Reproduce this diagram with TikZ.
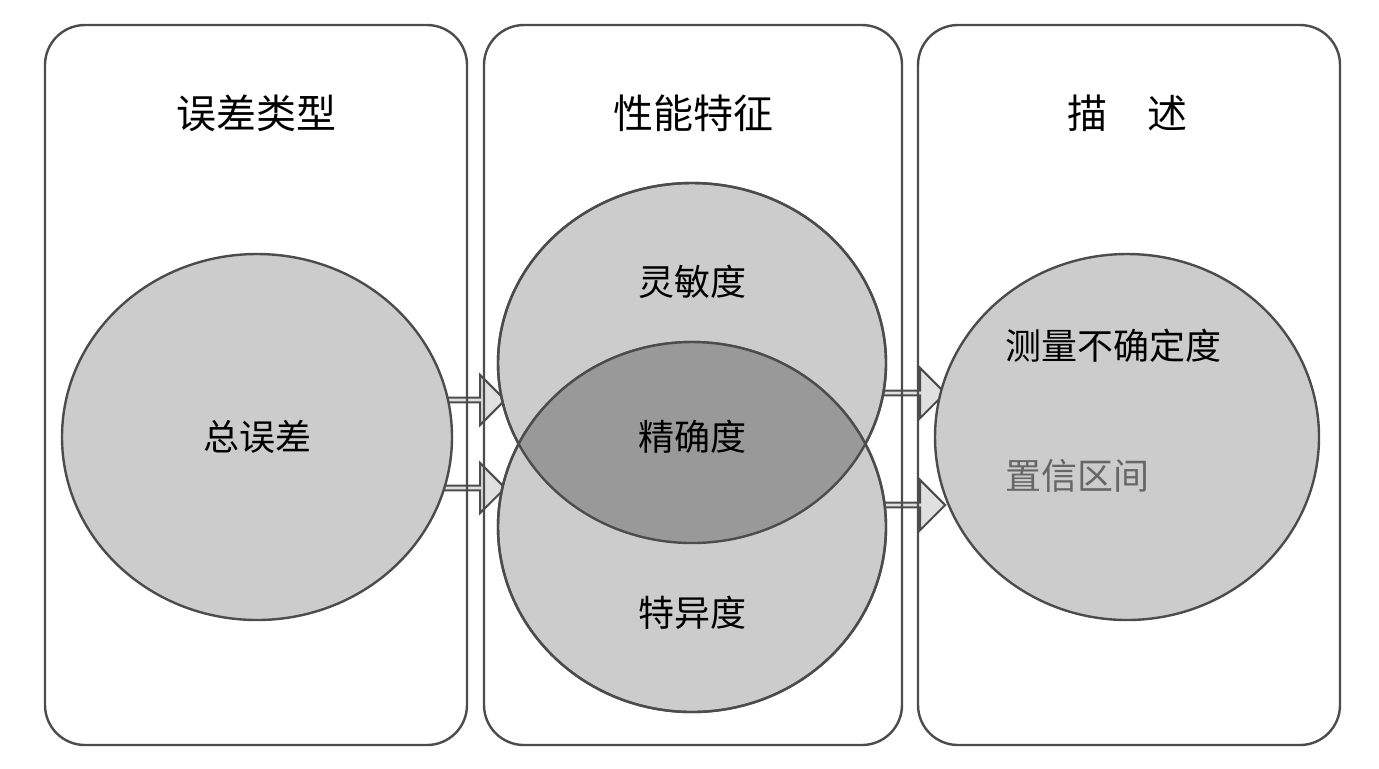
\documentclass[tikz,border=0pt]{standalone}
\usepackage{fontspec}
\setmainfont{Noto Sans CJK SC}
\usetikzlibrary{shapes.geometric, shapes.arrows, positioning}
\begin{document}
\begin{tikzpicture}[x=0.5pt, y=-0.5pt]
            % Styles
            \tikzstyle{panel} = [draw=black!70, line width=1.2pt, rounded corners=20pt]
            \tikzstyle{blob} = [ellipse, draw=black!70, line width=1.2pt, fill=black!20, inner sep=0pt]
            \tikzstyle{fatarrow} = [single arrow, draw=black!70, line width=1pt, fill=black!12, minimum height=34pt, minimum width=25pt, single arrow head extend=5pt, inner sep=0pt]
            \tikzstyle{title} = [font=\fontsize{20}{24}\selectfont]
            \tikzstyle{label} = [font=\fontsize{18}{22}\selectfont]
            \useasboundingbox (0,0) rectangle (1379,768);
            % Arrows
            \node[fatarrow] (arr_a) at (470,400) {};
            \node[fatarrow] (arr_b) at (470,488) {};
            \node[fatarrow] (arr_c) at (910,393) {};
            \node[fatarrow] (arr_d) at (910,505) {};
            % Panels
            \draw[panel] (45,25) rectangle (467,745);
            \draw[panel] (484,25) rectangle (902,745);
            \draw[panel] (918,25) rectangle (1340,745);
            \node[title] (t_type) at (256,113) {误差类型};
            \node[title] (t_perf) at (693,113) {性能特征};
            \node[title] (t_desc) at (1127,113) {描\hspace{1em}述};
            % Circles
            \node[blob, minimum width=390pt/2, minimum height=366pt/2] (total) at (257,437) {};
            \node[blob, minimum width=388pt/2, minimum height=360pt/2] (sens) at (692,363) {};
            \node[blob, minimum width=388pt/2, minimum height=370pt/2] (spec) at (692,527) {};
            \begin{scope}
                \clip (692,363) ellipse (194 and 180);
                \fill[black!40] (692,527) ellipse (194 and 185);
            \end{scope}
            \draw[black!70, line width=1.2pt] (692,363) ellipse (194 and 180);
            \draw[black!70, line width=1.2pt] (692,527) ellipse (194 and 185);
            \node[blob, minimum width=384pt/2, minimum height=366pt/2] (descr) at (1127,437) {};
            % Texts
            \node[label] (lbl_total) at (total) {总误差};
            \node[label] (lbl_sens) at (692,282) {灵敏度};
            \node[label] (lbl_prec) at (692,437) {精确度};
            \node[label] (lbl_spec) at (692,613) {特异度};
            \node[label, anchor=west] (lbl_unc) at (998,346) {测量不确定度};
            \node[label, anchor=west, text=black!60] (lbl_ci) at (998,476) {置信区间};
        \end{tikzpicture}
\end{document}
